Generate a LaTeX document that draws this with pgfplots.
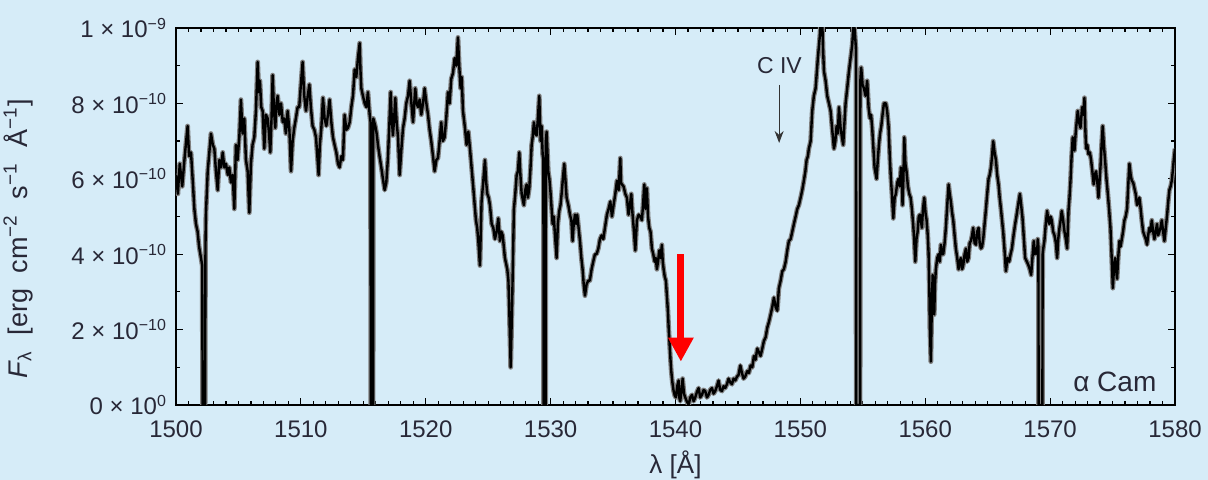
\documentclass[border=0pt]{standalone}
\usepackage{pgfplots}
\pgfplotsset{compat=1.18}
\usepackage{fontspec}
\setmainfont{Liberation Sans}
\usetikzlibrary{arrows.meta}
\definecolor{bg}{RGB}{214,236,248}
\definecolor{txt}{RGB}{40,40,55}
\pgfplotstableread{
x y
1500.0 6.1
1500.15 5.6
1500.3 6.4
1500.5 5.8
1500.7 6.6
1500.93 7.4
1501.05 6.6
1501.2 6.7
1501.35 5.9
1501.47 5.2
1501.6 4.8
1501.73 4.6
1501.85 4.2
1502.0 3.9
1502.1 3.7
1502.13 0
1502.33 0
1502.36 4.2
1502.4 5.1
1502.54 6.2
1502.8 7.2
1502.95 6.9
1503.07 6.8
1503.2 6.2
1503.34 5.7
1503.47 6.5
1503.6 6.3
1503.74 6.7
1503.87 6.3
1504.0 6.4
1504.15 6.1
1504.27 6.3
1504.4 5.9
1504.54 6.1
1504.67 5.2
1504.8 6.9
1504.93 6.5
1505.07 7.1
1505.2 8.1
1505.33 7.2
1505.47 7.6
1505.6 6.5
1505.74 6.2
1505.87 5.1
1506.0 6.4
1506.13 6.9
1506.27 7.1
1506.4 7.8
1506.54 9.1
1506.63 8.3
1506.72 8.6
1506.83 7.9
1506.94 7.8
1507.07 6.8
1507.2 7.7
1507.34 7.6
1507.45 7.2
1507.55 6.7
1507.65 7.6
1507.74 8.75
1507.85 7.8
1507.95 7.35
1508.05 8.0
1508.14 8.2
1508.28 7.7
1508.41 8.0
1508.55 7.5
1508.67 7.6
1508.8 7.2
1508.94 7.8
1509.08 7.3
1509.21 6.2
1509.34 7.0
1509.47 7.35
1509.6 7.6
1509.74 7.9
1509.87 7.9
1510.0 8.5
1510.14 9.1
1510.27 8.2
1510.41 7.8
1510.55 8.2
1510.68 8.5
1510.8 7.9
1510.94 7.4
1511.08 7.3
1511.21 7.1
1511.32 6.6
1511.42 6.1
1511.52 6.9
1511.64 7.35
1511.77 8.15
1511.9 7.6
1512.04 7.4
1512.17 7.7
1512.30 8.1
1512.44 7.5
1512.57 7.1
1512.7 6.9
1512.84 6.7
1512.97 6.4
1513.10 6.3
1513.24 6.6
1513.37 6.5
1513.50 7.7
1513.64 7.3
1513.77 7.35
1513.91 7.5
1514.04 7.9
1514.17 8.2
1514.31 8.9
1514.44 8.7
1514.57 9.2
1514.71 9.6
1514.77 8.9
1514.84 8.4
1514.97 8.2
1515.11 8.0
1515.24 7.9
1515.37 8.3
1515.51 7.7
1515.58 7.5
1515.6 0
1515.78 0
1515.8 7.6
1515.96 7.4
1516.07 7.2
1516.17 6.9
1516.3 6.6
1516.44 6.3
1516.57 6.0
1516.71 5.7
1516.84 5.9
1516.97 6.55
1517.08 7.4
1517.19 8.3
1517.28 7.6
1517.37 7.15
1517.47 7.6
1517.56 8.15
1517.67 7.5
1517.78 7.1
1517.91 6.1
1518.05 6.8
1518.18 7.35
1518.31 7.6
1518.44 8.0
1518.58 8.2
1518.71 8.6
1518.85 8.0
1518.98 7.5
1519.16 8.4
1519.27 8.0
1519.38 7.9
1519.51 8.1
1519.64 7.7
1519.78 8.0
1519.91 8.4
1520.05 8.0
1520.18 7.7
1520.31 7.3
1520.44 7.0
1520.58 6.6
1520.71 6.2
1520.85 6.5
1520.98 6.55
1521.11 7.0
1521.24 7.5
1521.37 7.0
1521.51 7.1
1521.64 7.6
1521.78 8.3
1521.91 8.0
1522.04 8.65
1522.18 8.8
1522.31 9.2
1522.45 9.0
1522.58 9.75
1522.68 9.0
1522.79 8.4
1522.88 8.7
1522.98 7.8
1523.14 7.35
1523.27 6.9
1523.41 7.25
1523.54 6.8
1523.67 6.3
1523.81 5.75
1523.92 5.3
1524.02 4.9
1524.12 4.7
1524.21 4.35
1524.34 3.7
1524.47 5.4
1524.6 5.9
1524.74 6.5
1524.84 5.9
1524.93 5.6
1525.04 5.5
1525.14 5.3
1525.28 4.8
1525.41 4.7
1525.54 4.4
1525.68 4.6
1525.81 4.95
1525.94 4.35
1526.05 4.6
1526.16 4.5
1526.34 3.9
1526.53 3.6
1526.62 3.3
1526.69 2.5
1526.80 1.0
1526.87 2.0
1526.93 2.9
1527.06 5.2
1527.17 5.6
1527.28 6.1
1527.38 6.2
1527.49 6.7
1527.58 6.1
1527.68 5.6
1527.86 5.3
1527.97 5.7
1528.08 5.85
1528.18 5.5
1528.29 5.75
1528.39 6.3
1528.48 6.9
1528.56 7.1
1528.66 7.5
1528.78 7.2
1528.88 7.15
1528.98 7.6
1529.09 8.2
1529.15 7.5
1529.20 7.0
1529.28 7.4
1529.36 6.65
1529.42 6.5
1529.44 0
1529.6 0
1529.62 7.0
1529.68 7.25
1529.81 6.2
1529.9 6.0
1530.0 5.6
1530.16 4.8
1530.25 5.0
1530.35 4.5
1530.48 3.9
1530.58 4.8
1530.69 5.15
1530.79 5.3
1530.88 5.6
1530.98 6.0
1531.09 6.4
1531.18 6.0
1531.28 5.5
1531.42 5.3
1531.55 5.05
1531.66 4.9
1531.76 4.35
1531.85 4.8
1531.95 5.05
1532.04 4.8
1532.13 5.05
1532.24 4.7
1532.35 4.35
1532.46 3.9
1532.56 3.6
1532.65 3.2
1532.75 2.9
1532.88 3.2
1533.01 3.3
1533.14 3.3
1533.28 3.6
1533.41 3.8
1533.55 4.0
1533.68 4.0
1533.82 4.15
1533.95 4.4
1534.08 4.5
1534.22 4.4
1534.35 4.7
1534.51 5.05
1534.64 5.2
1534.78 5.4
1534.91 5.0
1535.04 5.3
1535.18 5.6
1535.31 5.95
1535.45 5.7
1535.58 6.55
1535.64 5.9
1535.71 5.85
1535.84 5.8
1535.98 5.6
1536.11 5.5
1536.24 5.05
1536.35 5.3
1536.46 5.6
1536.55 5.1
1536.65 4.7
1536.78 4.1
1536.91 4.9
1537.05 5.05
1537.18 5.0
1537.31 4.9
1537.4 5.3
1537.5 5.85
1537.6 5.2
1537.71 5.75
1537.8 5.0
1537.9 4.7
1538.0 4.6
1538.11 4.15
1538.22 4.0
1538.33 3.8
1538.42 3.9
1538.51 3.6
1538.6 3.8
1538.7 4.1
1538.8 3.9
1538.91 4.25
1538.98 3.8
1539.05 3.6
1539.14 3.4
1539.23 3.3
1539.31 2.9
1539.39 2.5
1539.46 2.0
1539.53 1.6
1539.6 1.2
1539.66 0.9
1539.75 0.6
1539.85 0.37
1539.94 0.25
1540.03 0.2
1540.14 0.5
1540.25 0.65
1540.3 0.2
1540.38 0.1
1540.48 0.4
1540.57 0.7
1540.68 0.3
1540.78 0.2
1540.9 0.1
1541.05 0.0
1541.18 0.2
1541.32 0.27
1541.45 0.1
1541.58 0.2
1541.72 0.35
1541.85 0.45
1541.98 0.2
1542.12 0.27
1542.25 0.4
1542.38 0.37
1542.52 0.2
1542.65 0.27
1542.78 0.4
1542.92 0.45
1543.05 0.3
1543.18 0.37
1543.32 0.5
1543.45 0.65
1543.58 0.4
1543.72 0.37
1543.85 0.5
1543.98 0.45
1544.12 0.55
1544.25 0.7
1544.38 0.6
1544.52 0.55
1544.65 0.7
1544.79 0.65
1544.92 0.75
1545.05 0.8
1545.19 1.05
1545.32 0.85
1545.45 0.7
1545.58 0.75
1545.75 0.9
1545.88 0.85
1546.01 1.05
1546.15 1.0
1546.28 1.3
1546.41 1.2
1546.55 1.5
1546.68 1.4
1546.81 1.3
1546.95 1.5
1547.08 1.7
1547.22 1.8
1547.35 2.05
1547.48 2.2
1547.62 2.4
1547.75 2.6
1547.88 2.85
1548.02 2.6
1548.15 2.5
1548.28 3.1
1548.42 3.3
1548.55 3.55
1548.68 3.6
1548.82 3.8
1548.95 4.1
1549.08 4.35
1549.22 4.4
1549.35 4.6
1549.48 4.8
1549.62 5.0
1549.75 5.2
1549.88 5.3
1550.02 5.5
1550.15 5.7
1550.28 5.95
1550.4 6.2
1550.5 6.5
1550.6 6.6
1550.68 6.8
1550.82 7.0
1550.95 7.8
1551.08 8.2
1551.22 8.4
1551.31 8.8
1551.40 9.2
1551.56 9.8
1551.65 10.3
1551.75 10.2
1551.82 9.4
1551.89 8.85
1552.02 8.6
1552.15 8.2
1552.29 8.0
1552.42 7.8
1552.55 7.3
1552.69 6.8
1552.8 7.0
1552.9 7.4
1553.0 7.2
1553.09 7.9
1553.16 7.6
1553.22 7.35
1553.33 7.1
1553.43 6.9
1553.53 7.5
1553.62 8.0
1553.75 8.4
1553.89 8.85
1554.02 9.2
1554.15 9.55
1554.22 9.9
1554.29 10.2
1554.38 9.8
1554.45 9.45
1554.47 0
1554.78 0
1554.8 8.6
1554.87 8.95
1554.98 8.5
1555.09 8.4
1555.22 8.2
1555.35 8.6
1555.46 7.9
1555.57 7.6
1555.66 7.7
1555.75 7.35
1555.85 6.8
1555.94 6.3
1556.1 6.0
1556.2 6.5
1556.29 6.9
1556.38 7.2
1556.48 7.4
1556.58 7.7
1556.69 8.0
1556.85 8.0
1556.95 7.8
1557.06 7.4
1557.17 6.5
1557.25 6.0
1557.33 5.6
1557.44 4.95
1557.55 5.5
1557.65 5.6
1557.76 5.9
1557.86 6.0
1557.96 5.8
1558.05 6.3
1558.12 6.0
1558.18 5.3
1558.25 6.0
1558.32 7.1
1558.41 6.4
1558.50 6.2
1558.61 5.8
1558.72 5.6
1558.83 5.5
1558.93 5.2
1559.03 4.8
1559.12 4.35
1559.2 3.8
1559.3 4.4
1559.39 4.6
1559.48 5.0
1559.57 5.05
1559.65 4.9
1559.73 4.7
1559.82 5.2
1559.92 5.5
1560.02 5.1
1560.11 4.9
1560.2 4.5
1560.27 4.0
1560.33 3.0
1560.37 2.05
1560.45 1.15
1560.52 2.5
1560.59 3.45
1560.66 2.8
1560.72 2.4
1560.78 3.2
1560.85 3.6
1560.96 3.9
1561.07 4.0
1561.16 3.8
1561.25 4.25
1561.35 4.0
1561.44 4.0
1561.55 4.3
1561.65 4.7
1561.76 5.3
1561.87 5.85
1561.96 5.6
1562.05 5.4
1562.15 5.1
1562.24 4.9
1562.35 4.5
1562.45 4.15
1562.56 3.9
1562.67 3.6
1562.76 3.8
1562.85 3.9
1562.95 3.6
1563.04 3.7
1563.15 4.0
1563.26 4.15
1563.36 3.8
1563.47 3.9
1563.56 4.3
1563.66 4.35
1563.75 4.5
1563.84 4.7
1563.95 4.3
1564.06 4.25
1564.16 4.6
1564.27 4.7
1564.36 4.3
1564.46 4.15
1564.55 4.2
1564.64 4.4
1564.75 4.8
1564.86 5.2
1564.96 5.6
1565.07 6.0
1565.16 6.1
1565.26 6.3
1565.35 6.6
1565.44 7.0
1565.55 6.7
1565.66 6.5
1565.76 6.1
1565.87 5.85
1565.96 5.5
1566.06 5.2
1566.15 4.9
1566.24 4.6
1566.35 4.1
1566.46 3.55
1566.59 3.9
1566.72 3.8
1566.83 4.0
1566.94 4.15
1567.07 4.5
1567.2 4.8
1567.3 5.0
1567.39 5.2
1567.48 5.4
1567.58 5.6
1567.68 5.3
1567.79 4.95
1567.9 4.4
1568.0 3.9
1568.14 3.8
1568.27 3.7
1568.37 3.6
1568.48 3.45
1568.58 3.9
1568.69 4.35
1568.78 4.0
1568.88 4.15
1568.95 4.0
1569.01 4.4
1569.06 4.2
1569.08 0
1569.38 0
1569.4 4.0
1569.47 4.2
1569.54 4.35
1569.65 4.8
1569.76 5.15
1569.85 4.9
1569.94 4.8
1570.04 5.0
1570.13 4.9
1570.24 4.6
1570.35 4.5
1570.46 4.3
1570.56 3.9
1570.65 4.4
1570.75 4.7
1570.84 4.9
1570.93 5.15
1571.04 4.9
1571.15 4.6
1571.26 4.4
1571.36 4.15
1571.47 5.15
1571.55 5.5
1571.63 5.95
1571.72 6.6
1571.81 7.1
1571.88 6.9
1571.95 6.75
1572.02 7.1
1572.08 7.35
1572.21 7.8
1572.32 7.5
1572.43 7.35
1572.56 7.9
1572.66 7.7
1572.75 8.15
1572.82 7.3
1572.88 6.8
1572.98 6.9
1573.07 6.65
1573.18 6.7
1573.28 6.5
1573.38 6.2
1573.49 5.85
1573.58 6.1
1573.68 6.2
1573.78 5.9
1573.87 5.5
1573.95 5.9
1574.03 6.3
1574.12 6.9
1574.21 7.4
1574.3 6.9
1574.4 6.5
1574.51 6.0
1574.62 5.6
1574.72 5.2
1574.83 4.7
1574.93 3.9
1575.02 3.1
1575.11 3.6
1575.2 3.9
1575.28 3.6
1575.36 3.35
1575.45 3.9
1575.55 4.35
1575.64 4.2
1575.74 4.4
1575.84 4.6
1575.95 4.9
1576.05 5.0
1576.16 5.2
1576.25 5.8
1576.35 6.4
1576.45 6.1
1576.54 5.95
1576.65 5.9
1576.75 5.75
1576.85 5.6
1576.96 5.3
1577.05 5.4
1577.15 5.5
1577.25 5.2
1577.34 4.9
1577.45 4.6
1577.55 4.5
1577.66 4.4
1577.76 4.25
1577.85 4.5
1577.95 4.7
1578.04 4.6
1578.14 4.9
1578.25 4.6
1578.35 4.4
1578.45 4.6
1578.56 4.8
1578.65 4.5
1578.75 4.6
1578.84 4.7
1578.94 4.9
1579.05 4.6
1579.15 4.35
1579.26 4.7
1579.37 5.05
1579.46 5.4
1579.55 5.7
1579.65 5.8
1579.74 5.95
1579.82 6.2
1579.9 6.5
1580.0 6.8
}\spectrum
\begin{document}
\begin{tikzpicture}[font=\fontsize{12}{14}\selectfont]
\path[use as bounding box, fill=bg] (-88pt,-37.5pt) rectangle (516pt,202.5pt);
\begin{axis}[
  at={(0pt,0pt)}, anchor=south west,
  scale only axis, width=499.5pt, height=188.5pt,
  xmin=1500, xmax=1580, ymin=0, ymax=10,
  axis line style={line width=0.8pt},
  xtick={1500,1510,...,1580},
  minor x tick num=9,
  ytick={0,2,4,6,8,10},
  minor y tick num=1,
  yticklabels={0 × 10\textsuperscript{0},2 × 10\textsuperscript{−10},4 × 10\textsuperscript{−10},6 × 10\textsuperscript{−10},8 × 10\textsuperscript{−10},1 × 10\textsuperscript{−9}},
  tick align=inside,
  major tick length=3.5pt, minor tick length=2pt,
  every tick/.style={black, line width=0.6pt},
  /pgf/number format/assume math mode=true,
  /pgf/number format/1000 sep={},
  tick label style={font=\fontsize{12}{14}\selectfont, text=txt},
  xticklabel style={yshift=-4.5pt},
  yticklabel style={xshift=-1pt},
  xlabel={λ [Å]},
  ylabel={\textit{F}\textsubscript{λ}\hspace{4pt} [erg\hspace{4pt} cm\textsuperscript{−2}\hspace{4pt} s\textsuperscript{−1}\hspace{4pt} Å\textsuperscript{−1}]},
  xlabel style={at={(axis description cs:0.5,-0.159)}, anchor=center, font=\fontsize{13}{15}\selectfont, text=txt},
  ylabel style={at={(axis description cs:-0.158,0.44)}, anchor=center, font=\fontsize{13.5}{16}\selectfont, text=txt},
  clip=true,
]
\addplot[black!50, line width=2.4pt, line join=round] table[x=x,y=y] {\spectrum};
\addplot[black, line width=1.2pt, line join=round] table[x=x,y=y] {\spectrum};
\node[text=txt, font=\fontsize{11.5}{13.8}\selectfont] at (axis cs:1548.32,9.0) {C IV};
\draw[black!80, line width=0.5pt, -{Stealth[length=6pt,width=4.5pt]}] (axis cs:1548.3,8.49) -- (axis cs:1548.3,6.95);
\draw[red, line width=3.6pt, -{Triangle[length=12pt,width=12pt]}] (axis cs:1540.43,4.0) -- (axis cs:1540.43,1.15);
\node[text=txt, font=\fontsize{14}{16}\selectfont, anchor=base] at (axis cs:1575.18,0.345) {α Cam};
\end{axis}
\end{tikzpicture}
\end{document}
